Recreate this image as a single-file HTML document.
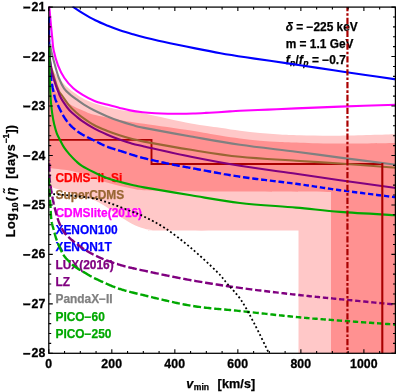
<!DOCTYPE html>
<html><head><meta charset="utf-8"><title>plot</title>
<style>
html,body{margin:0;padding:0;background:#fff;}
svg{display:block;will-change:transform;}
text{font-family:"Liberation Sans",sans-serif;font-weight:bold;font-size:11.9px;}
g.tk text{font-size:12.3px;}
</style></head><body>
<svg width="396" height="392" viewBox="0 0 396 392">
<rect width="396" height="392" fill="#fff"/>
<defs><clipPath id="c"><rect x="48.8" y="7.1" width="348.59999999999997" height="346.2"/></clipPath><clipPath id="c2"><rect x="48.199999999999996" y="6.5" width="348.59999999999997" height="347.4"/></clipPath></defs>
<g clip-path="url(#c)" fill="none" stroke-linecap="butt" stroke-linejoin="round">
<path d="M49.20,45.00 C49.43,48.00 49.73,58.50 50.60,63.00 C51.47,67.50 52.87,69.33 54.40,72.00 C55.93,74.67 57.40,76.23 59.80,79.00 C62.20,81.77 65.13,85.47 68.80,88.60 C72.47,91.73 77.60,95.35 81.80,97.80 C86.00,100.25 89.83,101.77 94.00,103.30 C98.17,104.83 102.55,105.93 106.80,107.00 C111.05,108.07 113.30,108.62 119.50,109.70 C125.70,110.78 132.08,111.20 144.00,113.50 C155.92,115.80 178.33,121.12 191.00,123.50 C203.67,125.88 211.83,126.58 220.00,127.80 C228.17,129.02 233.33,129.92 240.00,130.80 C246.67,131.68 253.33,132.47 260.00,133.10 C266.67,133.73 273.33,134.23 280.00,134.60 C286.67,134.97 290.00,135.12 300.00,135.30 C310.00,135.48 324.00,135.87 340.00,135.70 C356.00,135.53 386.67,134.53 396.00,134.30 L396,353.3 L298.5,353.3 L298.50,230.60 C275.42,230.60 184.42,230.70 160.00,230.60 C135.58,230.50 154.67,230.37 152.00,230.00 C149.33,229.63 147.28,229.42 144.00,228.40 C140.72,227.38 136.38,225.92 132.30,223.90 C128.22,221.88 123.75,219.07 119.50,216.30 C115.25,213.53 111.05,210.02 106.80,207.30 C102.55,204.58 99.13,202.10 94.00,200.00 C88.87,197.90 81.17,196.23 76.00,194.70 C70.83,193.17 67.47,192.17 63.00,190.80 C58.53,189.43 51.50,187.22 49.20,186.50 Z" fill="#ffc8c8" stroke="none"/>
<path d="M49.20,60.00 C49.50,63.00 50.03,73.00 51.00,78.00 C51.97,83.00 53.17,86.67 55.00,90.00 C56.83,93.33 59.17,95.42 62.00,98.00 C64.83,100.58 68.33,103.33 72.00,105.50 C75.67,107.67 80.33,109.45 84.00,111.00 C87.67,112.55 88.08,113.32 94.00,114.80 C99.92,116.28 111.17,118.42 119.50,119.90 C127.83,121.38 132.08,121.93 144.00,123.70 C155.92,125.47 178.33,128.52 191.00,130.50 C203.67,132.48 211.83,134.25 220.00,135.60 C228.17,136.95 233.33,137.75 240.00,138.60 C246.67,139.45 253.33,140.12 260.00,140.70 C266.67,141.28 273.33,141.77 280.00,142.10 C286.67,142.43 290.00,142.45 300.00,142.70 C310.00,142.95 324.00,143.55 340.00,143.60 C356.00,143.65 386.67,143.10 396.00,143.00 L396,353.3 L331,353.3 L331.00,192.00 C315.83,191.93 265.17,191.72 240.00,191.60 C214.83,191.48 196.00,191.52 180.00,191.30 C164.00,191.08 152.00,190.77 144.00,190.30 C136.00,189.83 136.00,189.22 132.00,188.50 C128.00,187.78 124.20,187.00 120.00,186.00 C115.80,185.00 111.05,183.77 106.80,182.50 C102.55,181.23 98.63,179.88 94.50,178.40 C90.37,176.92 86.25,174.93 82.00,173.60 C77.75,172.27 74.47,171.28 69.00,170.40 C63.53,169.52 52.50,168.65 49.20,168.30 Z" fill="#ff9191" stroke="none"/>
</g>
<g clip-path="url(#c2)" fill="none" stroke-linecap="butt" stroke-linejoin="round">
<path d="M48.8,139.9 L151.5,139.9 L151.5,164 L382.3,164" stroke="#aa0000" stroke-width="1.9" stroke-linejoin="miter"/>
<g><text x="55.5" y="182.00" fill="#ff0000" stroke="#ff0000" stroke-width="0.25">CDMS−II−Si</text><text x="55.5" y="199.33" fill="#996633" stroke="#996633" stroke-width="0.25">SuperCDMS</text><text x="55.5" y="216.66" fill="#ff00ff" stroke="#ff00ff" stroke-width="0.25">CDMSlite(2016)</text><text x="55.5" y="233.99" fill="#0000ff" stroke="#0000ff" stroke-width="0.25">XENON100</text><text x="55.5" y="251.32" fill="#0000ff" stroke="#0000ff" stroke-width="0.25">XENON1T</text><text x="55.5" y="268.65" fill="#800080" stroke="#800080" stroke-width="0.25">LUX(2016)</text><text x="55.5" y="285.98" fill="#800080" stroke="#800080" stroke-width="0.25">LZ</text><text x="55.5" y="303.31" fill="#808080" stroke="#808080" stroke-width="0.25">PandaX−II</text><text x="55.5" y="320.64" fill="#00a800" stroke="#00a800" stroke-width="0.25">PICO−60</text><text x="55.5" y="337.97" fill="#00a800" stroke="#00a800" stroke-width="0.25">PICO−250</text></g>
<g fill="#000" stroke="#000" stroke-width="0.25" style="letter-spacing:0px">
<text x="285.7" y="31"><tspan font-style="italic">δ</tspan> = −225 keV</text>
<text x="285.7" y="47.9">m = 1.1 GeV</text>
<text x="285.7" y="64.3"><tspan font-style="italic">f</tspan><tspan font-style="italic" font-size="8.6" dy="1.6" dx="0.3">n</tspan><tspan dy="-1.6" dx="0.2">/</tspan><tspan font-style="italic" dx="0.2">f</tspan><tspan font-style="italic" font-size="8.6" dy="1.6" dx="0.3">p</tspan><tspan dy="-1.6" dx="0.3"> = −0.7</tspan></text>
</g>
<path d="M49.80,50.00 C49.90,52.13 49.65,58.13 50.40,62.80 C51.15,67.47 52.90,73.33 54.30,78.00 C55.70,82.67 57.52,87.88 58.80,90.80 C60.08,93.72 60.22,93.00 62.00,95.50 C63.78,98.00 67.18,103.02 69.50,105.80 C71.82,108.58 73.77,110.28 75.90,112.20 C78.03,114.12 79.28,115.17 82.30,117.30 C85.32,119.43 89.92,122.77 94.00,125.00 C98.08,127.23 102.55,129.00 106.80,130.70 C111.05,132.40 115.25,133.82 119.50,135.20 C123.75,136.58 128.22,137.93 132.30,139.00 C136.38,140.07 134.22,139.80 144.00,141.60 C153.78,143.40 175.00,147.27 191.00,149.80 C207.00,152.33 222.50,154.98 240.00,156.80 C257.50,158.62 279.33,159.58 296.00,160.70 C312.67,161.82 323.33,162.32 340.00,163.50 C356.67,164.68 386.67,167.08 396.00,167.80" stroke="#996633" stroke-width="2.1"/>
<path d="M49.10,5.00 C49.42,8.42 50.47,19.95 51.00,25.50 C51.53,31.05 51.87,34.22 52.30,38.30 C52.73,42.38 52.65,45.50 53.60,50.00 C54.55,54.50 56.20,60.63 58.00,65.30 C59.80,69.97 61.85,74.17 64.40,78.00 C66.95,81.83 70.32,85.53 73.30,88.30 C76.28,91.07 78.85,92.53 82.30,94.60 C85.75,96.67 89.92,99.03 94.00,100.70 C98.08,102.37 102.55,103.40 106.80,104.60 C111.05,105.80 115.63,106.93 119.50,107.90 C123.37,108.87 126.15,109.68 130.00,110.40 C133.85,111.12 138.38,111.73 142.60,112.20 C146.82,112.67 151.08,112.95 155.30,113.20 C159.52,113.45 163.70,113.60 167.90,113.70 C172.10,113.80 176.30,113.83 180.50,113.80 C184.70,113.77 188.88,113.65 193.10,113.50 C197.32,113.35 201.58,113.12 205.80,112.90 C210.02,112.68 214.37,112.45 218.40,112.20 C222.43,111.95 226.40,111.63 230.00,111.40 C233.60,111.17 233.67,111.10 240.00,110.80 C246.33,110.50 258.67,110.00 268.00,109.60 C277.33,109.20 284.00,108.90 296.00,108.40 C308.00,107.90 323.33,107.20 340.00,106.60 C356.67,106.00 386.67,105.10 396.00,104.80" stroke="#ff00ff" stroke-width="2.1"/>
<path d="M72.60,6.30 C72.80,6.47 72.13,6.17 73.80,7.30 C75.47,8.43 79.02,10.93 82.60,13.10 C86.18,15.27 91.08,18.18 95.30,20.30 C99.52,22.42 103.70,24.10 107.90,25.80 C112.10,27.50 116.30,29.08 120.50,30.50 C124.70,31.92 128.88,33.10 133.10,34.30 C137.32,35.50 141.58,36.63 145.80,37.70 C150.02,38.77 154.37,39.78 158.40,40.70 C162.43,41.62 163.85,41.92 170.00,43.20 C176.15,44.48 186.88,46.73 195.30,48.40 C203.72,50.07 212.08,51.72 220.50,53.20 C228.92,54.68 237.55,56.03 245.80,57.30 C254.05,58.57 260.67,59.43 270.00,60.80 C279.33,62.17 291.18,63.92 301.80,65.50 C312.42,67.08 323.08,68.72 333.70,70.30 C344.32,71.88 355.12,73.48 365.50,75.00 C375.88,76.52 390.92,78.67 396.00,79.40" stroke="#0000ff" stroke-width="2.1"/>
<path d="M48.91,16.93 L48.91,17.41 L48.91,17.96 L48.91,18.55 L48.91,19.18 L48.91,19.85 L48.91,20.55 L48.91,21.28 L48.91,22.04 L48.91,22.82 L48.91,23.63 L48.91,24.46 L48.92,25.30 M48.93,28.10 L48.93,28.89 L48.94,29.81 L48.94,30.74 L48.95,31.68 L48.96,32.62 L48.97,33.56 L48.99,34.50 L49.00,35.43 L49.02,36.36 L49.02,36.46 M49.08,39.26 L49.10,40.00 L49.13,40.90 L49.15,41.82 L49.19,42.77 L49.22,43.74 L49.25,44.73 L49.29,45.74 L49.33,46.76 L49.36,47.62 M49.47,50.42 L49.50,50.95 L49.54,52.01 L49.59,53.07 L49.63,54.13 L49.68,55.19 L49.73,56.24 L49.78,57.28 L49.83,58.31 L49.85,58.76 M49.99,61.56 L50.02,62.28 L50.07,63.23 L50.12,64.14 L50.17,65.03 L50.22,65.90 L50.27,66.73 L50.31,67.52 L50.36,68.28 L50.40,69.00 L50.44,69.68 L50.46,69.89 M50.65,72.69 L50.68,73.13 L50.72,73.61 L50.75,74.08 L50.79,74.52 L50.83,74.94 L50.86,75.35 L50.90,75.75 L50.94,76.13 L50.98,76.50 L51.01,76.86 L51.05,77.22 L51.09,77.57 L51.14,77.91 L51.18,78.26 L51.22,78.60 L51.27,78.95 L51.31,79.30 L51.36,79.66 L51.41,80.02 L51.47,80.39 L51.52,80.77 L51.55,80.97 M51.97,83.74 L51.97,83.77 L52.05,84.23 L52.12,84.68 L52.20,85.14 L52.28,85.60 L52.36,86.07 L52.44,86.53 L52.52,86.99 L52.61,87.45 L52.69,87.92 L52.78,88.37 L52.87,88.83 L52.96,89.29 L53.05,89.74 L53.14,90.18 L53.22,90.62 L53.31,91.06 L53.40,91.49 L53.49,91.90 M54.11,94.63 L54.11,94.65 L54.20,95.00 L54.28,95.34 L54.36,95.66 L54.44,95.96 L54.51,96.25 L54.58,96.53 L54.65,96.80 L54.72,97.06 L54.79,97.30 L54.86,97.54 L54.92,97.77 L54.99,98.00 L55.06,98.22 L55.12,98.44 L55.19,98.65 L55.26,98.87 L55.34,99.08 L55.41,99.30 L55.49,99.51 L55.57,99.73 L55.66,99.96 L55.74,100.19 L55.84,100.43 L55.94,100.67 L56.04,100.92 L56.15,101.19 L56.27,101.46 L56.39,101.75 L56.52,102.05 L56.66,102.37 L56.70,102.46 M57.84,105.02 L58.01,105.40 L58.21,105.83 L58.41,106.26 L58.62,106.70 L58.83,107.15 L59.05,107.60 L59.27,108.06 L59.49,108.52 L59.71,108.98 L59.94,109.44 L60.17,109.90 L60.40,110.35 L60.63,110.81 L60.86,111.26 L61.09,111.71 L61.32,112.16 L61.44,112.39 M62.78,114.85 L62.89,115.03 L63.10,115.40 L63.31,115.76 L63.52,116.11 L63.74,116.46 L63.95,116.80 L64.16,117.14 L64.37,117.47 L64.59,117.80 L64.80,118.13 L65.01,118.45 L65.23,118.76 L65.44,119.07 L65.65,119.38 L65.87,119.69 L66.08,119.99 L66.29,120.28 L66.51,120.57 L66.72,120.86 L66.94,121.15 L67.15,121.43 L67.36,121.70 L67.38,121.73 M69.15,123.90 L69.29,124.05 L69.50,124.30 L69.71,124.54 L69.93,124.78 L70.14,125.01 L70.35,125.24 L70.57,125.46 L70.78,125.68 L70.99,125.90 L71.21,126.11 L71.42,126.31 L71.63,126.51 L71.85,126.71 L72.06,126.91 L72.27,127.10 L72.49,127.29 L72.70,127.48 L72.91,127.67 L73.13,127.85 L73.34,128.03 L73.55,128.21 L73.77,128.39 L73.98,128.56 L74.19,128.73 L74.41,128.91 L74.62,129.08 L74.83,129.25 L75.05,129.42 L75.26,129.59 L75.29,129.61 M77.48,131.35 L77.65,131.48 L77.84,131.61 L78.02,131.75 L78.21,131.89 L78.39,132.02 L78.58,132.16 L78.77,132.29 L78.96,132.43 L79.16,132.56 L79.36,132.70 L79.56,132.84 L79.77,132.97 L79.99,133.11 L80.21,133.26 L80.44,133.40 L80.68,133.55 L80.93,133.70 L81.18,133.85 L81.45,134.01 L81.72,134.17 L82.00,134.33 L82.30,134.50 L82.61,134.67 L82.92,134.85 L83.25,135.03 L83.59,135.21 L83.93,135.39 L84.28,135.58 L84.64,135.77 L84.68,135.79 M87.18,137.05 L87.34,137.14 L87.75,137.34 L88.16,137.54 L88.57,137.74 L88.99,137.95 L89.40,138.15 L89.82,138.36 L90.24,138.56 L90.66,138.77 L91.08,138.97 L91.50,139.18 L91.93,139.38 L92.34,139.59 L92.76,139.79 L93.18,139.99 L93.59,140.20 L94.00,140.40 L94.41,140.60 L94.64,140.72 M97.14,141.99 L97.32,142.08 L97.75,142.30 L98.17,142.52 L98.60,142.74 L99.02,142.95 L99.45,143.17 L99.88,143.39 L100.31,143.61 L100.74,143.82 L101.17,144.04 L101.60,144.25 L102.03,144.46 L102.46,144.67 L102.90,144.88 L103.33,145.08 L103.76,145.28 L104.20,145.48 L104.56,145.65 M107.14,146.74 L107.23,146.77 L107.67,146.94 L108.11,147.10 L108.55,147.26 L108.99,147.42 L109.43,147.57 L109.87,147.72 L110.31,147.87 L110.76,148.01 L111.20,148.16 L111.65,148.30 L112.09,148.43 L112.54,148.57 L112.99,148.70 L113.43,148.84 L113.88,148.97 L114.32,149.10 L114.77,149.23 L115.21,149.36 L115.41,149.42 M118.10,150.21 L118.28,150.27 L118.71,150.40 L119.15,150.53 L119.57,150.66 L120.00,150.80 L120.42,150.94 L120.85,151.07 L121.27,151.21 L121.69,151.35 L122.11,151.49 L122.53,151.62 L122.94,151.76 L123.36,151.90 L123.78,152.03 L124.19,152.17 L124.60,152.31 L125.01,152.44 L125.42,152.58 L125.83,152.71 L126.24,152.85 L126.57,152.96 M129.23,153.83 L129.49,153.91 L129.89,154.04 L130.30,154.17 L130.70,154.30 L131.10,154.43 L131.50,154.55 L131.90,154.68 L132.30,154.80 L132.69,154.92 L133.07,155.04 L133.43,155.15 L133.78,155.26 L134.12,155.37 L134.45,155.48 L134.77,155.58 L135.09,155.69 L135.40,155.79 L135.71,155.89 L136.03,155.99 L136.34,156.09 L136.65,156.19 L136.97,156.29 L137.29,156.39 L137.46,156.44 M140.15,157.21 L140.30,157.25 L140.75,157.38 L141.23,157.50 L141.73,157.63 L142.25,157.77 L142.81,157.90 L143.39,158.05 L144.00,158.20 L144.65,158.36 L145.33,158.52 L146.04,158.69 L146.79,158.87 L147.56,159.05 L148.21,159.20 M150.94,159.83 L151.79,160.02 L152.69,160.23 L153.61,160.43 L154.54,160.64 L155.47,160.85 L156.42,161.06 L157.37,161.27 L158.32,161.48 L158.68,161.56 M161.42,162.16 L162.12,162.32 L163.05,162.52 L163.98,162.72 L164.89,162.92 L165.79,163.11 L166.67,163.30 L167.54,163.48 L168.38,163.66 L169.14,163.82 M171.88,164.39 L172.18,164.45 L172.83,164.59 L173.47,164.72 L174.07,164.84 L174.66,164.96 L175.23,165.07 L175.79,165.18 L176.33,165.29 L176.88,165.40 L177.42,165.50 L177.96,165.61 L178.51,165.71 L179.06,165.82 L179.63,165.93 L179.78,165.95 M182.54,166.46 L182.80,166.51 L183.52,166.64 L184.28,166.78 L185.09,166.93 L185.94,167.08 L186.84,167.25 L187.79,167.42 L188.80,167.60 L189.87,167.79 L190.43,167.90 M193.18,168.40 L193.44,168.45 L194.73,168.69 L196.08,168.94 L197.47,169.20 L198.90,169.46 L200.37,169.74 L200.96,169.85 M203.72,170.37 L205.00,170.61 L206.61,170.91 L208.25,171.22 L209.91,171.53 L211.18,171.76 M213.93,172.27 L215.04,172.47 L216.79,172.79 L218.55,173.11 L220.33,173.43 L221.05,173.56 M223.81,174.04 L223.90,174.06 L225.70,174.37 L227.50,174.68 L229.30,174.99 L230.74,175.23 M233.50,175.68 L234.69,175.87 L236.47,176.16 L238.24,176.43 L240.00,176.70 L240.25,176.74 M243.02,177.14 L243.55,177.22 L245.37,177.48 L247.21,177.73 L249.07,177.98 L249.46,178.04 M252.23,178.40 L252.84,178.48 L254.74,178.73 L256.66,178.97 L258.33,179.18 M261.11,179.52 L262.47,179.69 L264.42,179.93 L266.37,180.16 L267.06,180.24 M269.84,180.58 L270.26,180.63 L272.20,180.86 L274.13,181.09 L275.67,181.27 M278.45,181.60 L279.86,181.77 L281.74,182.00 L283.61,182.22 L284.16,182.29 M286.94,182.63 L287.28,182.68 L289.08,182.90 L290.85,183.13 L292.52,183.34 M295.29,183.71 L296.00,183.80 L297.65,184.02 L299.26,184.25 L300.75,184.45 M303.52,184.85 L303.89,184.90 L305.38,185.11 L306.84,185.33 L308.28,185.54 L308.93,185.63 M311.70,186.05 L312.50,186.17 L313.89,186.38 L315.26,186.58 L316.63,186.79 L317.06,186.86 M319.83,187.28 L320.74,187.42 L322.11,187.62 L323.50,187.83 L324.89,188.04 L325.15,188.08 M327.92,188.49 L329.16,188.67 L330.62,188.89 L332.11,189.10 L333.20,189.26 M335.97,189.65 L336.74,189.75 L338.35,189.98 L340.00,190.20 L341.22,190.36 M344.00,190.73 L345.37,190.91 L347.30,191.17 L349.25,191.42 M352.03,191.78 L353.41,191.96 L355.53,192.23 L357.26,192.45 M360.04,192.80 L362.04,193.05 L364.22,193.33 L365.27,193.46 M368.04,193.81 L368.59,193.88 L370.75,194.15 L372.89,194.42 L373.26,194.46 M376.03,194.81 L377.06,194.94 L379.07,195.19 L381.04,195.43 L381.23,195.46 M384.01,195.80 L384.77,195.90 L386.52,196.12 L388.19,196.32 L389.20,196.45 M391.98,196.80 L392.61,196.87 L393.87,197.03 L395.00,197.17 L396.00,197.30 " stroke="#0000ff" stroke-width="2.4"/>
<path d="M49.80,52.00 C49.90,54.17 49.70,60.33 50.40,65.00 C51.10,69.67 52.48,75.00 54.00,80.00 C55.52,85.00 57.87,91.23 59.50,95.00 C61.13,98.77 62.13,100.05 63.80,102.60 C65.47,105.15 67.48,108.07 69.50,110.30 C71.52,112.53 73.77,114.20 75.90,116.00 C78.03,117.80 79.28,119.03 82.30,121.10 C85.32,123.17 89.92,126.17 94.00,128.40 C98.08,130.63 102.55,132.63 106.80,134.50 C111.05,136.37 115.47,138.13 119.50,139.60 C123.53,141.07 126.92,142.17 131.00,143.30 C135.08,144.43 134.00,144.15 144.00,146.40 C154.00,148.65 175.00,153.57 191.00,156.80 C207.00,160.03 222.50,162.97 240.00,165.80 C257.50,168.63 279.33,171.40 296.00,173.80 C312.67,176.20 323.33,177.83 340.00,180.20 C356.67,182.57 386.67,186.70 396.00,188.00" stroke="#800080" stroke-width="2.1"/>
<path d="M48.9,23 V47" stroke="#800080" stroke-width="2.5" stroke-dasharray="7.3,4.2"/>
<path d="M49.10,160.00 L49.11,160.18 L49.11,160.38 L49.12,160.50 M49.20,163.30 L49.21,163.64 L49.22,164.00 L49.23,164.38 L49.24,164.75 L49.25,165.13 L49.27,165.52 L49.28,165.91 L49.29,166.30 L49.30,166.69 L49.31,167.07 L49.32,167.46 L49.34,167.84 L49.35,168.22 L49.36,168.59 L49.37,168.96 L49.38,169.31 L49.39,169.66 L49.40,170.00 L49.41,170.33 L49.42,170.66 L49.42,170.99 L49.43,171.31 L49.43,171.63 L49.43,171.66 M49.44,174.46 L49.44,174.50 L49.44,174.82 L49.45,175.15 L49.45,175.47 L49.46,175.80 L49.46,176.13 L49.47,176.46 L49.49,176.79 L49.50,177.13 L49.51,177.47 L49.53,177.82 L49.55,178.17 L49.57,178.53 L49.60,178.89 L49.63,179.25 L49.66,179.62 L49.70,180.00 L49.74,180.38 L49.78,180.78 L49.83,181.18 L49.88,181.59 L49.94,182.00 L49.99,182.42 L50.04,182.78 M50.46,185.55 L50.53,185.94 L50.60,186.39 L50.67,186.84 L50.75,187.29 L50.83,187.73 L50.90,188.18 L50.98,188.62 L51.05,189.06 L51.13,189.50 L51.20,189.93 L51.28,190.36 L51.35,190.78 L51.43,191.20 L51.50,191.61 L51.57,192.02 L51.63,192.41 L51.70,192.80 L51.76,193.18 L51.83,193.55 L51.86,193.76 M52.33,196.52 L52.35,196.62 L52.40,196.95 L52.46,197.27 L52.52,197.59 L52.58,197.91 L52.63,198.23 L52.69,198.54 L52.75,198.86 L52.81,199.19 L52.87,199.51 L52.94,199.84 L53.00,200.17 L53.07,200.50 L53.14,200.84 L53.21,201.19 L53.28,201.53 L53.36,201.89 L53.44,202.25 L53.52,202.62 L53.60,203.00 L53.69,203.39 L53.77,203.78 L53.87,204.18 L53.96,204.59 L53.97,204.66 M54.61,207.38 L54.66,207.60 L54.77,208.04 L54.87,208.48 L54.98,208.93 L55.09,209.38 L55.20,209.82 L55.32,210.27 L55.43,210.71 L55.54,211.15 L55.66,211.59 L55.77,212.02 L55.88,212.46 L56.00,212.88 L56.11,213.31 L56.23,213.72 L56.34,214.13 L56.46,214.54 L56.57,214.93 L56.69,215.32 L56.70,215.37 M57.53,218.05 L57.58,218.21 L57.69,218.56 L57.80,218.89 L57.91,219.23 L58.03,219.56 L58.14,219.89 L58.25,220.22 L58.37,220.54 L58.48,220.86 L58.60,221.18 L58.71,221.50 L58.83,221.81 L58.95,222.13 L59.07,222.44 L59.20,222.75 L59.32,223.06 L59.45,223.36 L59.58,223.67 L59.71,223.98 L59.84,224.28 L59.98,224.59 L60.12,224.89 L60.26,225.20 L60.40,225.50 L60.49,225.70 M61.74,228.20 L61.89,228.48 L62.04,228.77 L62.20,229.06 L62.36,229.34 L62.52,229.63 L62.69,229.91 L62.85,230.20 L63.02,230.48 L63.19,230.76 L63.37,231.03 L63.54,231.31 L63.72,231.59 L63.91,231.86 L64.09,232.13 L64.28,232.40 L64.48,232.67 L64.67,232.94 L64.87,233.21 L65.08,233.47 L65.29,233.74 L65.50,234.00 L65.72,234.26 L65.94,234.52 L66.17,234.77 L66.39,235.02 M68.37,236.99 L68.37,236.99 L68.63,237.23 L68.89,237.47 L69.16,237.71 L69.42,237.94 L69.69,238.18 L69.96,238.41 L70.24,238.64 L70.51,238.88 L70.79,239.11 L71.06,239.34 L71.34,239.57 L71.62,239.81 L71.90,240.04 L72.18,240.27 L72.46,240.50 L72.74,240.73 L73.02,240.97 L73.30,241.20 L73.58,241.43 L73.87,241.67 L74.17,241.91 L74.47,242.15 L74.77,242.39 L74.78,242.40 M76.99,244.12 L77.29,244.34 L77.61,244.59 L77.93,244.82 L78.25,245.06 L78.57,245.30 L78.88,245.53 L79.19,245.76 L79.50,245.99 L79.80,246.21 L80.11,246.43 L80.40,246.64 L80.69,246.85 L80.98,247.06 L81.26,247.26 L81.53,247.45 L81.79,247.64 L82.05,247.82 L82.30,248.00 L82.54,248.17 L82.78,248.33 L83.00,248.49 L83.22,248.64 L83.44,248.79 L83.65,248.93 L83.85,249.07 L83.86,249.08 M86.23,250.57 L86.37,250.65 L86.54,250.75 L86.72,250.85 L86.89,250.96 L87.07,251.06 L87.25,251.16 L87.43,251.27 L87.62,251.38 L87.81,251.49 L88.00,251.60 L88.19,251.71 L88.38,251.82 L88.57,251.93 L88.76,252.04 L88.94,252.14 L89.12,252.24 L89.30,252.35 L89.48,252.45 L89.66,252.55 L89.84,252.65 L90.02,252.75 L90.20,252.85 L90.38,252.95 L90.56,253.04 L90.74,253.14 L90.93,253.24 L91.12,253.34 L91.31,253.45 L91.51,253.55 L91.71,253.65 L91.91,253.76 L92.12,253.86 L92.33,253.97 L92.55,254.08 L92.78,254.20 L93.01,254.31 L93.24,254.43 L93.49,254.55 L93.54,254.57 M96.05,255.82 L96.17,255.88 L96.46,256.02 L96.75,256.16 L97.04,256.31 L97.34,256.45 L97.64,256.60 L97.95,256.75 L98.26,256.90 L98.58,257.05 L98.91,257.20 L99.24,257.36 L99.57,257.51 L99.92,257.67 L100.27,257.83 L100.63,257.99 L101.00,258.15 L101.37,258.31 L101.75,258.47 L102.14,258.63 L102.54,258.80 L102.95,258.97 L103.37,259.13 L103.55,259.20 M106.17,260.21 L106.57,260.36 L107.06,260.55 L107.56,260.73 L108.07,260.92 L108.59,261.11 L109.11,261.30 L109.64,261.49 L110.17,261.69 L110.71,261.88 L111.26,262.07 L111.82,262.27 L112.38,262.46 L112.94,262.66 L113.51,262.85 L114.08,263.04 L114.32,263.12 M116.98,263.99 L117.01,263.99 L117.60,264.18 L118.20,264.36 L118.80,264.54 L119.40,264.72 L120.00,264.90 L120.59,265.07 L121.16,265.24 L121.71,265.39 L122.24,265.55 L122.75,265.69 L123.26,265.84 L123.76,265.98 L124.25,266.11 L124.74,266.25 L125.24,266.38 L125.56,266.47 M128.28,267.16 L128.39,267.19 L128.97,267.33 L129.59,267.48 L130.23,267.63 L130.90,267.79 L131.60,267.95 L132.34,268.12 L133.13,268.29 L133.96,268.48 L134.83,268.67 L135.75,268.88 L136.71,269.09 M139.45,269.68 L140.00,269.80 L141.22,270.06 L142.50,270.34 L143.85,270.63 L145.26,270.93 L146.73,271.25 L147.90,271.50 M150.64,272.08 L151.43,272.25 L153.08,272.60 L154.78,272.96 L156.51,273.32 L158.26,273.69 L158.73,273.79 M161.47,274.36 L161.86,274.45 L163.69,274.82 L165.53,275.21 L167.39,275.59 L169.26,275.97 L169.53,276.03 M172.28,276.58 L173.00,276.73 L174.87,277.11 L176.74,277.48 L178.59,277.84 L180.43,278.20 L180.51,278.22 M183.26,278.75 L184.06,278.91 L185.84,279.24 L187.59,279.57 L189.31,279.89 L191.00,280.20 L191.46,280.28 M194.22,280.78 L194.31,280.79 L195.95,281.08 L197.58,281.37 L199.20,281.65 L200.82,281.93 L202.33,282.18 M205.09,282.65 L205.63,282.74 L207.22,283.00 L208.82,283.26 L210.41,283.52 L212.00,283.77 L212.85,283.91 M215.62,284.34 L216.78,284.52 L218.39,284.77 L219.99,285.01 L221.60,285.26 L223.05,285.47 M225.82,285.88 L226.48,285.98 L228.13,286.22 L229.78,286.46 L231.45,286.70 L233.06,286.93 M235.83,287.32 L236.53,287.42 L238.26,287.66 L240.00,287.90 L241.76,288.14 L242.86,288.29 M245.64,288.66 L247.21,288.87 L249.07,289.11 L250.94,289.35 L252.30,289.53 M255.08,289.88 L256.66,290.08 L258.59,290.32 L260.53,290.56 L261.44,290.67 M264.22,291.01 L264.42,291.03 L266.37,291.27 L268.31,291.50 L270.12,291.72 M272.90,292.04 L274.13,292.19 L276.05,292.41 L277.96,292.64 L278.69,292.72 M281.47,293.04 L281.74,293.08 L283.61,293.29 L285.46,293.50 L287.14,293.69 M289.92,294.01 L290.85,294.12 L292.60,294.32 L294.32,294.51 L295.47,294.64 M298.25,294.95 L299.26,295.06 L300.83,295.24 L302.38,295.41 L303.70,295.55 M306.49,295.85 L306.84,295.89 L308.28,296.04 L309.70,296.19 L311.11,296.34 L311.91,296.42 M314.69,296.70 L315.26,296.76 L316.63,296.90 L318.00,297.04 L319.37,297.17 L320.07,297.24 M322.86,297.52 L323.50,297.58 L324.89,297.72 L326.30,297.86 L327.72,298.00 L328.20,298.04 M330.98,298.31 L332.11,298.42 L333.62,298.57 L335.17,298.72 L336.28,298.83 M339.07,299.11 L340.00,299.20 L341.71,299.37 L343.50,299.55 L344.34,299.63 M347.13,299.90 L347.30,299.92 L349.29,300.11 L351.33,300.31 L352.38,300.41 M355.17,300.68 L355.53,300.72 L357.68,300.92 L359.85,301.13 L360.41,301.19 M363.20,301.46 L364.22,301.55 L366.41,301.76 L368.44,301.96 M371.22,302.23 L372.89,302.39 L374.99,302.59 L376.45,302.73 M379.24,302.99 L381.04,303.17 L382.94,303.35 L384.45,303.49 M387.23,303.76 L388.19,303.85 L389.77,304.00 L391.25,304.14 L392.43,304.26 M395.22,304.52 L396.00,304.60 " stroke="#800080" stroke-width="2.4"/>
<path d="M50.20,44.00 C50.33,45.00 50.20,46.45 51.00,50.00 C51.80,53.55 53.68,60.63 55.00,65.30 C56.32,69.97 57.40,74.17 58.90,78.00 C60.40,81.83 62.10,85.52 64.00,88.30 C65.90,91.08 68.03,92.72 70.30,94.70 C72.57,96.68 75.32,98.55 77.60,100.20 C79.88,101.85 81.27,102.92 84.00,104.60 C86.73,106.28 90.20,108.37 94.00,110.30 C97.80,112.23 102.55,114.40 106.80,116.20 C111.05,118.00 115.25,119.63 119.50,121.10 C123.75,122.57 128.22,123.87 132.30,125.00 C136.38,126.13 134.22,125.98 144.00,127.90 C153.78,129.82 175.00,133.68 191.00,136.50 C207.00,139.32 222.50,142.27 240.00,144.80 C257.50,147.33 279.33,149.57 296.00,151.70 C312.67,153.83 323.33,155.43 340.00,157.60 C356.67,159.77 386.67,163.52 396.00,164.70" stroke="#808080" stroke-width="2.1"/>
<path d="M49.40,47.00 C49.43,50.00 49.50,58.67 49.60,65.00 C49.70,71.33 49.77,78.72 50.00,85.00 C50.23,91.28 50.62,97.85 51.00,102.70 C51.38,107.55 51.77,110.50 52.30,114.10 C52.83,117.70 53.45,121.10 54.20,124.30 C54.95,127.50 55.83,130.68 56.80,133.30 C57.77,135.92 58.77,137.60 60.00,140.00 C61.23,142.40 62.62,145.30 64.20,147.70 C65.78,150.10 67.55,152.18 69.50,154.40 C71.45,156.62 73.77,159.03 75.90,161.00 C78.03,162.97 79.28,164.32 82.30,166.20 C85.32,168.08 89.92,170.33 94.00,172.30 C98.08,174.27 102.55,176.42 106.80,178.00 C111.05,179.58 115.25,180.63 119.50,181.80 C123.75,182.97 128.22,184.07 132.30,185.00 C136.38,185.93 134.22,185.68 144.00,187.40 C153.78,189.12 175.00,192.70 191.00,195.30 C207.00,197.90 222.50,200.95 240.00,203.00 C257.50,205.05 279.33,206.12 296.00,207.60 C312.67,209.08 323.33,210.63 340.00,211.90 C356.67,213.17 386.67,214.65 396.00,215.20" stroke="#00a800" stroke-width="2.1"/>
<path d="M49.00,178.00 L49.00,178.14 L49.01,178.29 L49.01,178.45 L49.01,178.62 L49.01,178.79 L49.01,178.97 L49.01,179.16 L49.01,179.36 L49.01,179.57 L49.01,179.78 L49.02,180.01 L49.02,180.24 L49.02,180.49 L49.02,180.74 L49.02,181.01 L49.03,181.28 L49.03,181.57 L49.04,181.87 L49.04,182.18 L49.05,182.50 L49.06,182.83 L49.07,183.17 L49.08,183.53 L49.09,183.90 L49.11,184.28 L49.12,184.68 L49.14,185.09 L49.16,185.51 L49.17,185.77 M49.32,188.57 L49.35,189.04 L49.38,189.64 L49.42,190.25 L49.46,190.89 L49.50,191.54 L49.54,192.21 L49.58,192.88 L49.63,193.57 L49.67,194.27 L49.72,194.97 L49.76,195.68 L49.81,196.38 L49.84,196.91 M50.03,199.70 L50.04,199.90 L50.08,200.58 L50.13,201.25 L50.17,201.91 L50.21,202.56 L50.25,203.19 L50.29,203.80 L50.33,204.39 L50.37,204.96 L50.40,205.50 L50.43,206.03 L50.46,206.55 L50.49,207.06 L50.52,207.57 L50.55,208.03 M50.70,210.83 L50.71,210.92 L50.73,211.37 L50.75,211.81 L50.78,212.25 L50.80,212.68 L50.82,213.10 L50.85,213.51 L50.87,213.92 L50.89,214.32 L50.92,214.72 L50.94,215.11 L50.97,215.49 L50.99,215.86 L51.02,216.23 L51.05,216.59 L51.08,216.95 L51.11,217.30 L51.14,217.64 L51.17,217.97 L51.20,218.30 L51.23,218.62 L51.27,218.93 L51.29,219.14 M51.72,221.91 L51.72,221.93 L51.76,222.14 L51.80,222.34 L51.84,222.54 L51.89,222.74 L51.93,222.93 L51.97,223.12 L52.01,223.31 L52.06,223.49 L52.10,223.68 L52.14,223.87 L52.18,224.05 L52.23,224.24 L52.27,224.43 L52.31,224.62 L52.36,224.81 L52.40,225.00 L52.44,225.19 L52.48,225.37 L52.52,225.55 L52.56,225.71 L52.60,225.87 L52.64,226.02 L52.68,226.17 L52.72,226.32 L52.75,226.46 L52.79,226.60 L52.83,226.73 L52.87,226.87 L52.91,227.00 L52.95,227.14 L52.99,227.27 L53.03,227.41 L53.07,227.56 L53.12,227.70 L53.16,227.85 L53.21,228.00 L53.26,228.16 L53.31,228.33 L53.36,228.51 L53.41,228.69 L53.47,228.88 L53.53,229.08 L53.59,229.29 L53.66,229.52 L53.73,229.75 L53.78,229.94 M54.50,232.65 L54.56,232.90 L54.64,233.23 L54.73,233.56 L54.81,233.90 L54.90,234.24 L54.99,234.59 L55.09,234.94 L55.19,235.30 L55.29,235.66 L55.39,236.03 L55.50,236.40 L55.61,236.77 L55.72,237.15 L55.84,237.53 L55.96,237.92 L56.09,238.31 L56.22,238.70 L56.36,239.10 L56.50,239.49 L56.65,239.90 L56.80,240.30 L56.90,240.55 M57.92,243.15 L58.04,243.45 L58.24,243.94 L58.44,244.43 L58.65,244.93 L58.86,245.44 L59.08,245.95 L59.30,246.46 L59.52,246.97 L59.74,247.47 L59.96,247.98 L60.19,248.49 L60.41,248.99 L60.64,249.49 L60.87,249.98 L61.10,250.46 L61.33,250.94 L61.55,251.40 L61.78,251.86 L62.00,252.29 M63.36,254.73 L63.52,254.99 L63.74,255.32 L63.95,255.64 L64.16,255.95 L64.37,256.25 L64.59,256.54 L64.80,256.82 L65.01,257.09 L65.23,257.35 L65.44,257.61 L65.65,257.86 L65.87,258.10 L66.08,258.34 L66.29,258.58 L66.51,258.80 L66.72,259.03 L66.94,259.25 L67.15,259.47 L67.36,259.68 L67.58,259.89 L67.79,260.11 L68.00,260.32 L68.22,260.53 L68.43,260.74 L68.65,260.95 L68.86,261.16 L69.07,261.37 L69.29,261.58 L69.50,261.80 L69.71,262.02 L69.92,262.23 L70.01,262.32 M72.02,264.26 L72.14,264.37 L72.34,264.56 L72.54,264.74 L72.75,264.92 L72.95,265.10 L73.16,265.27 L73.37,265.45 L73.58,265.63 L73.80,265.80 L74.01,265.98 L74.24,266.15 L74.46,266.33 L74.69,266.51 L74.92,266.68 L75.16,266.86 L75.40,267.04 L75.65,267.22 L75.90,267.40 L76.16,267.58 L76.42,267.76 L76.68,267.94 L76.95,268.12 L77.23,268.30 L77.50,268.47 L77.78,268.65 L78.07,268.83 L78.35,269.00 L78.64,269.18 L78.93,269.35 L79.23,269.53 L79.52,269.70 L79.82,269.88 L80.12,270.05 L80.36,270.19 M82.80,271.56 L82.91,271.63 L83.22,271.80 L83.54,271.98 L83.85,272.16 L84.17,272.34 L84.48,272.52 L84.80,272.70 L85.11,272.88 L85.41,273.06 L85.70,273.23 L85.99,273.40 L86.27,273.57 L86.54,273.74 L86.81,273.90 L87.08,274.07 L87.35,274.24 L87.62,274.40 L87.89,274.57 L88.16,274.73 L88.43,274.90 L88.71,275.07 L89.00,275.24 L89.29,275.41 L89.59,275.59 L89.90,275.76 L90.23,275.95 L90.56,276.13 L90.91,276.32 L91.27,276.52 L91.59,276.69 M94.09,277.96 L94.28,278.05 L94.80,278.30 L95.34,278.56 L95.90,278.83 L96.49,279.11 L97.09,279.39 L97.72,279.69 L98.36,280.00 L99.02,280.31 L99.70,280.63 L100.39,280.96 L101.10,281.29 L101.82,281.62 L102.55,281.96 L103.13,282.23 M105.68,283.39 L106.35,283.68 L107.13,284.03 L107.91,284.37 L108.70,284.71 L109.49,285.05 L110.28,285.38 L111.07,285.71 L111.86,286.03 L112.64,286.35 L113.43,286.65 L114.20,286.95 L114.98,287.25 L115.35,287.38 M117.99,288.32 L118.65,288.55 L119.33,288.78 L119.99,289.00 L120.64,289.21 L121.29,289.42 L121.92,289.62 L122.55,289.82 L123.18,290.01 L123.81,290.20 L124.45,290.38 L125.09,290.56 L125.75,290.75 L126.42,290.93 L126.50,290.95 M129.21,291.66 L129.28,291.68 L130.06,291.88 L130.87,292.08 L131.71,292.29 L132.59,292.51 L133.51,292.73 L134.47,292.97 L135.48,293.21 L136.53,293.47 L137.59,293.72 M140.31,294.37 L141.27,294.61 L142.61,294.93 L144.00,295.27 L145.44,295.62 L146.93,295.99 L148.37,296.34 M151.09,297.00 L151.68,297.15 L153.34,297.55 L155.04,297.96 L156.76,298.38 L158.52,298.80 L158.80,298.87 M161.52,299.51 L162.09,299.65 L163.91,300.07 L165.74,300.50 L167.58,300.92 L169.22,301.30 M171.95,301.91 L173.13,302.17 L174.98,302.57 L176.83,302.97 L178.66,303.36 L179.83,303.60 M182.57,304.15 L184.09,304.45 L185.86,304.79 L187.60,305.11 L189.32,305.41 L190.46,305.61 M193.22,306.06 L194.31,306.23 L195.95,306.47 L197.58,306.71 L199.20,306.93 L200.82,307.14 L201.06,307.17 M203.84,307.51 L204.03,307.53 L205.63,307.72 L207.22,307.89 L208.82,308.06 L210.41,308.23 L211.38,308.32 M214.16,308.59 L215.19,308.69 L216.78,308.83 L218.39,308.98 L219.99,309.12 L221.36,309.24 M224.15,309.49 L224.85,309.55 L226.48,309.70 L228.13,309.84 L229.78,309.99 L231.14,310.12 M233.93,310.38 L234.83,310.47 L236.53,310.64 L238.26,310.82 L240.00,311.00 L240.72,311.08 M243.50,311.38 L243.55,311.38 L245.37,311.58 L247.21,311.78 L249.07,311.99 L249.94,312.08 M252.73,312.39 L252.84,312.40 L254.74,312.61 L256.66,312.82 L258.59,313.04 L258.82,313.06 M261.60,313.37 L262.47,313.46 L264.42,313.68 L266.37,313.89 L267.55,314.02 M270.34,314.33 L272.20,314.53 L274.13,314.74 L276.05,314.95 L276.17,314.96 M278.95,315.26 L279.86,315.35 L281.74,315.55 L283.61,315.75 L284.66,315.86 M287.44,316.15 L289.08,316.31 L290.85,316.49 L292.60,316.67 L293.03,316.71 M295.82,316.98 L296.00,317.00 L297.65,317.16 L299.26,317.31 L300.83,317.46 L301.30,317.50 M304.08,317.75 L305.38,317.87 L306.84,318.00 L308.28,318.12 L309.52,318.23 M312.31,318.46 L312.50,318.48 L313.89,318.59 L315.26,318.71 L316.63,318.82 L317.71,318.90 M320.50,319.12 L320.74,319.14 L322.11,319.25 L323.50,319.35 L324.89,319.46 L325.87,319.53 M328.66,319.74 L329.16,319.78 L330.62,319.89 L332.11,320.00 L333.62,320.12 L333.98,320.15 M336.77,320.36 L338.35,320.48 L340.00,320.60 L341.71,320.73 L342.05,320.76 M344.85,320.96 L345.37,321.00 L347.30,321.14 L349.29,321.29 L350.12,321.35 M352.91,321.55 L353.41,321.59 L355.53,321.74 L357.68,321.90 L358.17,321.93 M360.96,322.13 L362.04,322.21 L364.22,322.36 L366.21,322.50 M369.00,322.70 L370.75,322.82 L372.89,322.98 L374.24,323.07 M377.03,323.27 L377.06,323.27 L379.07,323.41 L381.04,323.55 L382.26,323.63 M385.05,323.83 L386.52,323.93 L388.19,324.05 L389.77,324.16 L390.26,324.19 M393.06,324.39 L393.87,324.45 L395.00,324.53 L396.00,324.60 " stroke="#00a800" stroke-width="2.4"/>
<path d="M49.00,193.80 C52.50,194.08 62.50,194.73 70.00,195.50 C77.50,196.27 87.87,197.28 94.00,198.40 C100.13,199.52 102.55,200.82 106.80,202.20 C111.05,203.58 115.25,205.10 119.50,206.70 C123.75,208.30 128.22,210.15 132.30,211.80 C136.38,213.45 138.47,213.83 144.00,216.60 C149.53,219.37 157.67,223.17 165.50,228.40 C173.33,233.63 182.42,240.77 191.00,248.00 C199.58,255.23 210.92,265.80 217.00,271.80 C223.08,277.80 223.50,279.30 227.50,284.00 C231.50,288.70 236.53,293.40 241.00,300.00 C245.47,306.60 249.70,314.85 254.30,323.60 C258.90,332.35 266.22,347.68 268.60,352.50" stroke="#000" stroke-width="1.8" stroke-dasharray="1.9,2.4"/>
<path d="M382.3,163.05 V353.3" stroke="#aa0000" stroke-width="2.1"/>
<path d="M347.45,7.1 V353.3" stroke="#aa0000" stroke-width="2.2" stroke-dasharray="6.3,2.0,2.6,1.95" stroke-dashoffset="2.2"/>
</g>
<path d="M48.80,353.30 v-4.00 M48.80,7.10 v4.00 M64.55,353.30 v-2.40 M64.55,7.10 v2.40 M80.31,353.30 v-2.40 M80.31,7.10 v2.40 M96.06,353.30 v-2.40 M96.06,7.10 v2.40 M111.82,353.30 v-4.00 M111.82,7.10 v4.00 M127.57,353.30 v-2.40 M127.57,7.10 v2.40 M143.33,353.30 v-2.40 M143.33,7.10 v2.40 M159.08,353.30 v-2.40 M159.08,7.10 v2.40 M174.84,353.30 v-4.00 M174.84,7.10 v4.00 M190.59,353.30 v-2.40 M190.59,7.10 v2.40 M206.35,353.30 v-2.40 M206.35,7.10 v2.40 M222.10,353.30 v-2.40 M222.10,7.10 v2.40 M237.85,353.30 v-4.00 M237.85,7.10 v4.00 M253.61,353.30 v-2.40 M253.61,7.10 v2.40 M269.36,353.30 v-2.40 M269.36,7.10 v2.40 M285.12,353.30 v-2.40 M285.12,7.10 v2.40 M300.87,353.30 v-4.00 M300.87,7.10 v4.00 M316.63,353.30 v-2.40 M316.63,7.10 v2.40 M332.38,353.30 v-2.40 M332.38,7.10 v2.40 M348.14,353.30 v-2.40 M348.14,7.10 v2.40 M363.89,353.30 v-4.00 M363.89,7.10 v4.00 M379.65,353.30 v-2.40 M379.65,7.10 v2.40 M395.40,353.30 v-2.40 M395.40,7.10 v2.40 M48.80,7.10 h4.00 M395.40,7.10 h-4.00 M48.80,16.99 h2.40 M395.40,16.99 h-2.40 M48.80,26.88 h2.40 M395.40,26.88 h-2.40 M48.80,36.77 h2.40 M395.40,36.77 h-2.40 M48.80,46.67 h2.40 M395.40,46.67 h-2.40 M48.80,56.56 h4.00 M395.40,56.56 h-4.00 M48.80,66.45 h2.40 M395.40,66.45 h-2.40 M48.80,76.34 h2.40 M395.40,76.34 h-2.40 M48.80,86.23 h2.40 M395.40,86.23 h-2.40 M48.80,96.12 h2.40 M395.40,96.12 h-2.40 M48.80,106.01 h4.00 M395.40,106.01 h-4.00 M48.80,115.91 h2.40 M395.40,115.91 h-2.40 M48.80,125.80 h2.40 M395.40,125.80 h-2.40 M48.80,135.69 h2.40 M395.40,135.69 h-2.40 M48.80,145.58 h2.40 M395.40,145.58 h-2.40 M48.80,155.47 h4.00 M395.40,155.47 h-4.00 M48.80,165.36 h2.40 M395.40,165.36 h-2.40 M48.80,175.25 h2.40 M395.40,175.25 h-2.40 M48.80,185.15 h2.40 M395.40,185.15 h-2.40 M48.80,195.04 h2.40 M395.40,195.04 h-2.40 M48.80,204.93 h4.00 M395.40,204.93 h-4.00 M48.80,214.82 h2.40 M395.40,214.82 h-2.40 M48.80,224.71 h2.40 M395.40,224.71 h-2.40 M48.80,234.60 h2.40 M395.40,234.60 h-2.40 M48.80,244.49 h2.40 M395.40,244.49 h-2.40 M48.80,254.39 h4.00 M395.40,254.39 h-4.00 M48.80,264.28 h2.40 M395.40,264.28 h-2.40 M48.80,274.17 h2.40 M395.40,274.17 h-2.40 M48.80,284.06 h2.40 M395.40,284.06 h-2.40 M48.80,293.95 h2.40 M395.40,293.95 h-2.40 M48.80,303.84 h4.00 M395.40,303.84 h-4.00 M48.80,313.73 h2.40 M395.40,313.73 h-2.40 M48.80,323.63 h2.40 M395.40,323.63 h-2.40 M48.80,333.52 h2.40 M395.40,333.52 h-2.40 M48.80,343.41 h2.40 M395.40,343.41 h-2.40 M48.80,353.30 h4.00 M395.40,353.30 h-4.00" stroke="#000" stroke-width="1.1" fill="none"/>
<rect x="48.8" y="7.1" width="346.59999999999997" height="346.2" fill="none" stroke="#000" stroke-width="1.25"/>
<g class="tk" style="letter-spacing:0.15px" stroke="#000" stroke-width="0.3"><text x="48.80" y="368.2" text-anchor="middle">0</text><text x="111.82" y="368.2" text-anchor="middle">200</text><text x="174.84" y="368.2" text-anchor="middle">400</text><text x="237.85" y="368.2" text-anchor="middle">600</text><text x="300.87" y="368.2" text-anchor="middle">800</text><text x="363.89" y="368.2" text-anchor="middle">1000</text><text x="45.4" y="11.20" text-anchor="end">21</text><rect x="23.4" y="6.85" width="6.7" height="1.5"/><text x="45.4" y="60.66" text-anchor="end">22</text><rect x="23.4" y="56.31" width="6.7" height="1.5"/><text x="45.4" y="110.11" text-anchor="end">23</text><rect x="23.4" y="105.76" width="6.7" height="1.5"/><text x="45.4" y="159.57" text-anchor="end">24</text><rect x="23.4" y="155.22" width="6.7" height="1.5"/><text x="45.4" y="209.03" text-anchor="end">25</text><rect x="23.4" y="204.68" width="6.7" height="1.5"/><text x="45.4" y="258.49" text-anchor="end">26</text><rect x="23.4" y="254.14" width="6.7" height="1.5"/><text x="45.4" y="307.94" text-anchor="end">27</text><rect x="23.4" y="303.59" width="6.7" height="1.5"/><text x="45.4" y="357.40" text-anchor="end">28</text><rect x="23.4" y="353.05" width="6.7" height="1.5"/></g>
<text x="186.2" y="387.5" style="font-size:12.6px" stroke="#000" stroke-width="0.25"><tspan font-style="italic">v</tspan><tspan style="font-size:8.6px" dy="2" dx="0.6">min</tspan></text><text x="217.6" y="387.5" stroke="#000" stroke-width="0.25" style="font-size:12.6px;letter-spacing:0.1px">[km/s]</text>
<g transform="translate(14.5,236.4) rotate(-90)" font-size="12.6" stroke="#000" stroke-width="0.25" style="font-size:12.6px">
<text x="-0.9" y="0" style="font-size:12.6px;letter-spacing:0.6px">Log</text>
<text x="24.3" y="3.9" style="font-size:8.6px">10</text>
<text x="35.2" y="0" style="font-size:12.6px">(</text>
<text x="41.5" y="0" style="font-size:12.6px;font-style:italic">η̃</text>
<text x="57.6" y="0" style="font-size:12.6px;letter-spacing:0.4px">[days</text>
<text x="93" y="-6" style="font-size:8.6px">−1</text>
<text x="103" y="0" style="font-size:12.6px">])</text>
</g>
</svg>
</body></html>
